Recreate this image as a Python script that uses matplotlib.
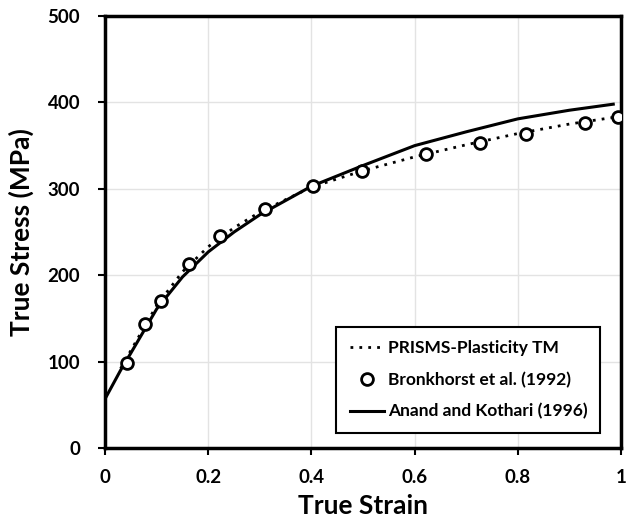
import matplotlib.pyplot as plt

plt.rcParams['font.family'] = ['Lato', 'DejaVu Sans']

# Anand and Kothari (1996) - solid
ak_strain = [0.0, 0.03, 0.05, 0.1, 0.15, 0.2, 0.25, 0.3, 0.4, 0.5, 0.6, 0.7, 0.8, 0.9, 0.985]
ak_stress = [57, 90, 110, 161, 198, 227, 250, 270, 303, 327, 350, 366, 381, 391, 398]

# PRISMS-Plasticity TM - dotted
pr_strain = [0.03, 0.05, 0.1, 0.15, 0.2, 0.25, 0.3, 0.4, 0.5, 0.6, 0.7, 0.8, 0.9, 1.0]
pr_stress = [92, 113, 165, 204, 233, 255, 273, 302, 321, 337, 351, 364, 375, 384]

# Bronkhorst et al. (1992) - experiment
ex_strain = [0.042, 0.077, 0.108, 0.163, 0.222, 0.31, 0.403, 0.498, 0.622, 0.727, 0.815, 0.93, 0.995]
ex_stress = [98, 144, 170, 213, 245, 277, 303, 321, 340, 353, 364, 376, 383]

fig = plt.figure(figsize=(6.26, 5.19), dpi=100)
ax = fig.add_axes([0.168, 0.137, 0.824, 0.832])

ax.plot(pr_strain, pr_stress, linestyle=(0, (1, 2.2)), color='black', lw=2,
        label='PRISMS-Plasticity TM', zorder=3)
ax.plot(ex_strain, ex_stress, 'o', mfc='white', mec='black', mew=2, ms=8.5,
        label='Bronkhorst et al. (1992)', zorder=4)
ax.plot(ak_strain, ak_stress, '-', color='black', lw=2.2,
        label='Anand and Kothari (1996)', zorder=3)

ax.set_xlim(0, 1)
ax.set_ylim(0, 500)
ax.set_xticks([0, 0.2, 0.4, 0.6, 0.8, 1])
ax.set_xticklabels(['0', '0.2', '0.4', '0.6', '0.8', '1'])
ax.set_yticks([0, 100, 200, 300, 400, 500])
ax.grid(True, color='#e3e3e3', lw=1)
ax.set_axisbelow(True)
for s in ax.spines.values():
    s.set_linewidth(2.5)
ax.tick_params(axis='both', direction='out', length=5, width=1.5, labelsize=13.5)
ax.tick_params(axis='x', pad=10)
ax.tick_params(axis='y', pad=13)
for lbl in ax.get_xticklabels() + ax.get_yticklabels():
    lbl.set_fontweight('bold')

ax.set_xlabel('True Strain', fontsize=19, fontweight='bold', labelpad=6)
ax.set_ylabel('True Stress (MPa)', fontsize=19, fontweight='bold', labelpad=10)

leg = ax.legend(loc='lower right', bbox_to_anchor=(0.96, 0.035), frameon=True,
                fancybox=False, edgecolor='black', framealpha=1, handlelength=2.0,
                handletextpad=0.2, labelspacing=0.9, borderpad=0.75,
                borderaxespad=0, prop={'weight': 'bold', 'size': 12.5})
leg.get_frame().set_linewidth(1.5)

fig.savefig('out.png', dpi=100)
